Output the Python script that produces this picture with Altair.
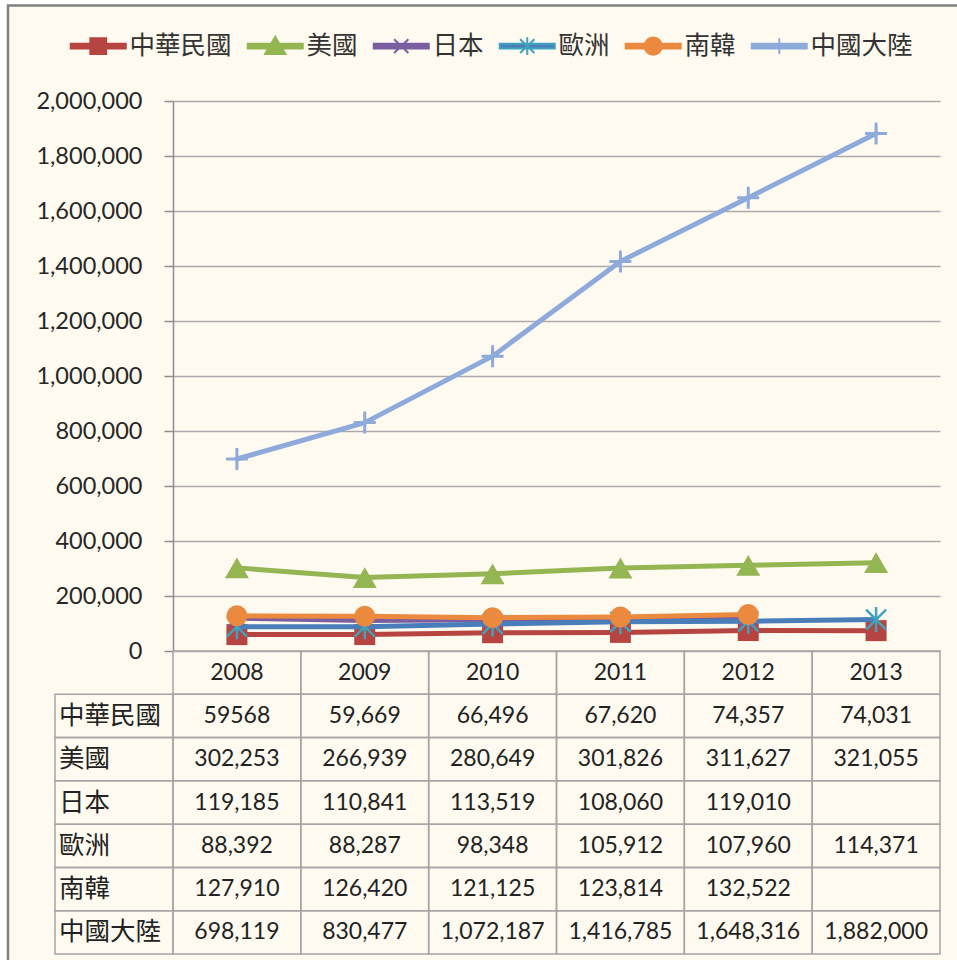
import altair as alt
import pandas as pd

# ---------------- data ----------------
years = ["2008", "2009", "2010", "2011", "2012", "2013"]
series = ["中華民國", "美國", "日本", "歐洲", "南韓", "中國大陸"]
roc = [59568, 59669, 66496, 67620, 74357, 74031]
usa = [302253, 266939, 280649, 301826, 311627, 321055]
japan = [119185, 110841, 113519, 108060, 119010, None]
europe = [88392, 88287, 98348, 105912, 107960, 114371]
korea = [127910, 126420, 121125, 123814, 132522, None]
china = [698119, 830477, 1072187, 1416785, 1648316, 1882000]
y_ticks = [0, 200000, 400000, 600000, 800000, 1000000,
           1200000, 1400000, 1600000, 1800000, 2000000]
header_row = "年份"

all_values = [roc, usa, japan, europe, korea, china]

rows = []
for s, vals in zip(series, all_values):
    for yr, v in zip(years, vals):
        rows.append({"series": s, "year": yr, "value": v,
                     "text": "" if v is None else f"{v:,}"})
# the first cell of the original table is shown without a thousands separator
rows[0]["text"] = str(roc[0])
df = pd.DataFrame(rows)

cells = [{"row": header_row, "year": yr, "text": yr} for yr in years]
cells += [{"row": r["series"], "year": r["year"], "text": r["text"]} for r in rows]
cells_df = pd.DataFrame(cells)
labels_df = pd.DataFrame({"row": series})
one_df = pd.DataFrame({"k": [0]})

# ---------------- styles ----------------
line_color = {"中華民國": "#B64541", "美國": "#93B552", "日本": "#7B5EA0",
              "歐洲": "#4A7EBB", "南韓": "#EB8A3E", "中國大陸": "#8EAADB"}
marker_color = dict(line_color, **{"歐洲": "#3FA3BE"})

P_X = "M-1,-1L1,1M-1,1L1,-1"
P_STAR = "M-1,-1L1,1M-1,1L1,-1M0,-1.25V1.25"
P_PLUS = "M-1,0H1M0,-1V1"
marker_style = {
    "中華民國": dict(shape="square", filled=True, size=441),
    "美國": dict(shape="triangle-up", filled=True, size=576),
    "日本": dict(shape=P_X, filled=False, size=256, strokeWidth=2.5),
    "歐洲": dict(shape=P_STAR, filled=False, size=400, strokeWidth=2.5),
    "南韓": dict(shape="circle", filled=True, size=441),
    "中國大陸": dict(shape=P_PLUS, filled=False, size=484, strokeWidth=3),
}

BAR = "M-1,-0.22H4V0.22H-1Z"
legend_paths = [
    BAR + "M0.78,-0.72H2.22V0.72H0.78Z",
    BAR + "M1.5,-0.85L2.42,0.72L0.58,0.72Z",
    BAR + "M0.85,-0.62L2.15,0.62M0.85,0.62L2.15,-0.62",
    BAR + "M0.85,-0.62L2.15,0.62M0.85,0.62L2.15,-0.62M1.5,-0.8V0.8",
    BAR + "M0.72,0A0.78,0.78 0 1,1 2.28,0A0.78,0.78 0 1,1 0.72,0Z",
    BAR + "M0.75,0H2.25M1.5,-0.72V0.72",
]
legend_fill = [line_color[s] for s in series]
legend_stroke = [marker_color[s] for s in series]

GRID = "#ABABAB"
TABLE_LINE = "#A5A5A5"
TEXT = "#222222"
NUM_FONT = "Lato"
CJK_FONT = "Noto Sans CJK TC"

x_enc = alt.X("year:N", scale=alt.Scale(type="band", domain=years,
                                        paddingInner=0, paddingOuter=0), axis=None)
y_axis = alt.Axis(values=y_ticks, labelExpr="format(datum.value, ',')", grid=True,
                  gridColor=GRID, gridWidth=1.5,
                  domainColor="#8C8C8C", domainWidth=1.5, tickColor="#8C8C8C",
                  tickSize=9, tickWidth=1.5, labelFont=NUM_FONT, labelFontSize=23.5,
                  labelColor="#262626", labelPadding=22, title=None)
y_plot = alt.Y("value:Q", scale=alt.Scale(domain=[0, 2000000], nice=False, zero=True),
               axis=y_axis)

plot_layers = []
for s in series:
    sub = alt.Chart(df).transform_filter(alt.datum.series == s).transform_filter(
        "isValid(datum.value)")
    plot_layers.append(sub.mark_line(color=line_color[s], strokeWidth=5,
                                     strokeJoin="round", strokeCap="round")
                       .encode(x=x_enc, y=y_plot))
    ms = marker_style[s]
    plot_layers.append(sub.mark_point(color=marker_color[s], opacity=1, **ms)
                       .encode(x=x_enc, y=y_plot))
plot_group = alt.layer(*plot_layers)

y_table = alt.Y("row:N", scale=alt.Scale(type="band", domain=[header_row] + series,
                                         range=[550, 853], paddingInner=0, paddingOuter=0),
                axis=None)
table_layers = [
    alt.Chart(cells_df).mark_rect(fill="#ffffff", fillOpacity=0, stroke=TABLE_LINE,
                                  strokeWidth=1.5).encode(x=x_enc, y=y_table),
    alt.Chart(labels_df).mark_rect(fill="#ffffff", fillOpacity=0, stroke=TABLE_LINE,
                                   strokeWidth=1.5).encode(
        x=alt.value(-118), x2=alt.value(0), y=y_table),
    alt.Chart(cells_df).mark_text(font=NUM_FONT, fontSize=23, color=TEXT).encode(
        x=x_enc, y=y_table, text="text:N"),
    alt.Chart(labels_df).mark_text(font=CJK_FONT, fontSize=25.5, color=TEXT,
                                   align="left").encode(
        x=alt.value(-114), y=y_table, text="row:N"),
]
table_group = alt.layer(*table_layers)

leg = alt.Legend(title=None, orient="none", direction="horizontal", columns=6,
                 legendX=-104, legendY=-68, columnPadding=11, symbolSize=484,
                 symbolStrokeWidth=2, labelOffset=35, labelFont=CJK_FONT,
                 labelFontSize=25.5, labelColor="#333333", labelLimit=400)
legend_layer = alt.Chart(df).transform_filter("false").mark_point(
    filled=True, opacity=1).encode(
    shape=alt.Shape("series:N", scale=alt.Scale(domain=series, range=legend_paths),
                    legend=leg),
    fill=alt.Fill("series:N", scale=alt.Scale(domain=series, range=legend_fill),
                  legend=leg),
    stroke=alt.Stroke("series:N", scale=alt.Scale(domain=series, range=legend_stroke),
                      legend=leg),
)

white_edge = alt.Chart(one_df).mark_rect(fill="#ffffff", fillOpacity=0, stroke="#ffffff",
                                         strokeWidth=16).encode(
    x=alt.value(-174), x2=alt.value(830), y=alt.value(-104), y2=alt.value(900))
frame = alt.Chart(one_df).mark_rect(fill="#ffffff", fillOpacity=0, stroke="#808080",
                                    strokeWidth=2.5).encode(
    x=alt.value(-165), x2=alt.value(820), y=alt.value(-95.5), y2=alt.value(890))

chart = alt.layer(white_edge, frame, plot_group, table_group, legend_layer).resolve_scale(
    y="independent"
).properties(
    width=767, height=550,
    padding={"left": 173, "top": 101, "right": 17, "bottom": 309},
    autosize=alt.AutoSizeParams(type="none"),
    background="#FFFAF0",
).configure_view(strokeWidth=0)

chart.save("out.html", embed_options={"renderer": "svg", "actions": False})
